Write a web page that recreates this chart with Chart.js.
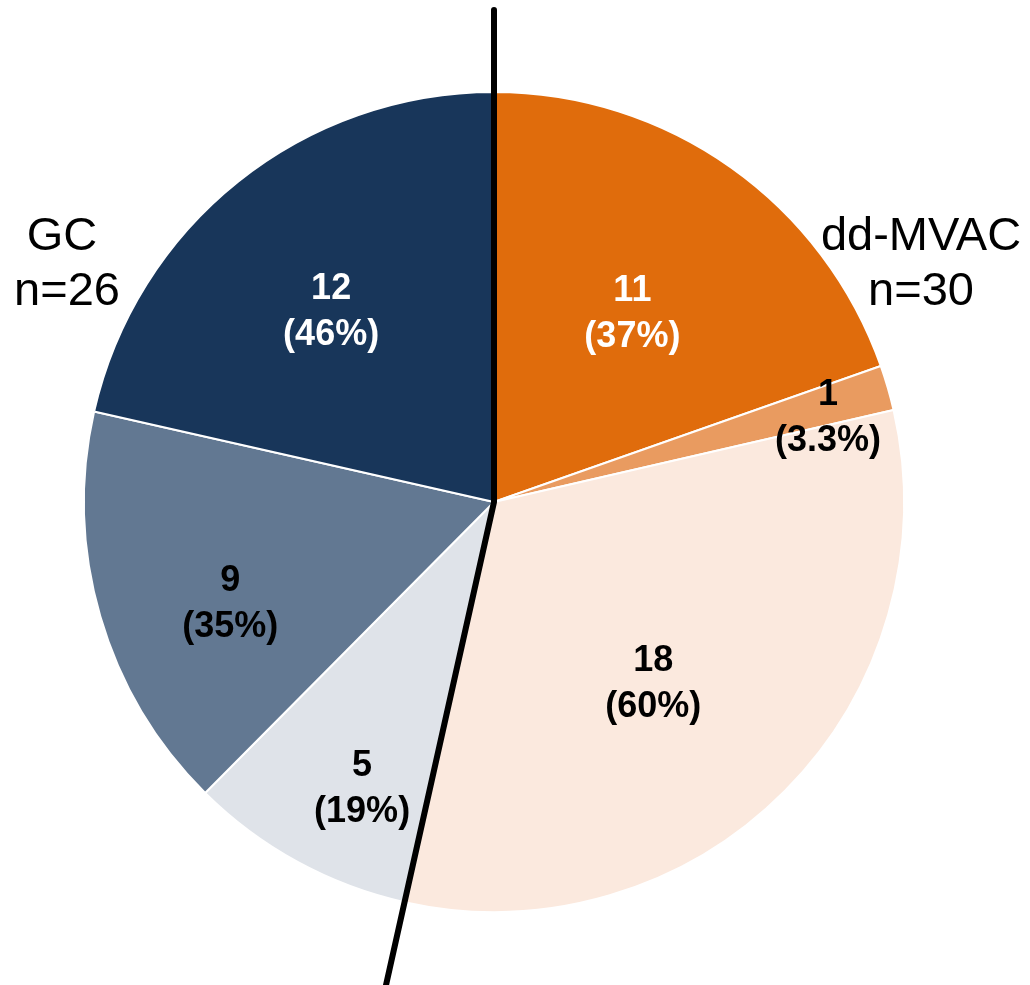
<!DOCTYPE html>
<html>
<head>
<meta charset="utf-8">
<script src="https://cdn.jsdelivr.net/npm/chart.js@4/dist/chart.umd.min.js"></script>
<style>
  body { margin: 0; background: #fff; }
  #wrap { position: relative; width: 1030px; height: 985px; }
</style>
</head>
<body>
<div id="wrap"><canvas id="pie"></canvas></div>
<script>
// right half: dd-MVAC, left half: GC (clockwise from 12 o'clock)
const mvacCounts = [11, 1, 18];
const gcCounts = [5, 9, 12];
const mvacTotal = 30;
const gcTotal = 26;
const groupNames = ['dd-MVAC', 'GC'];

// angle (deg, clockwise from top) where the dd-MVAC half ends
const splitDeg = 192.6;

const colors = ['#e06c0c', '#e99b60', '#fbe9de', '#dfe3e9', '#627892', '#18365a'];
const textColors = ['#fff', '#000', '#000', '#000', '#000', '#fff'];
// label placement: fraction of radius, angle nudge in degrees
const labelRadius = [0.57, 0.84, 0.59, 0.77, 0.69, 0.61];
const labelNudge = [1, 2, 4, -4, -5, -2];

let counts = mvacCounts.concat(gcCounts);
let totals = mvacCounts.map(() => mvacTotal).concat(gcCounts.map(() => gcTotal));
let sizes = mvacCounts.map(v => v / mvacTotal * splitDeg)
    .concat(gcCounts.map(v => v / gcTotal * (360 - splitDeg)));

function pctText(c, t) {
    let p = c / t * 100;
    return '(' + (p < 10 ? p.toFixed(1) : Math.round(p)) + '%)';
}

const overlay = {
    id: 'overlay',
    afterDraw(chart) {
        const c = chart.ctx;
        const arcs = chart.getDatasetMeta(0).data;
        const cx = arcs[0].x, cy = arcs[0].y, r = arcs[0].outerRadius;

        // slice labels
        c.save();
        c.font = 'bold 36px "Liberation Sans", Arial, sans-serif';
        c.textAlign = 'center';
        c.textBaseline = 'middle';
        arcs.forEach((a, i) => {
            let mid = (a.startAngle + a.endAngle) / 2 + labelNudge[i] * Math.PI / 180;
            let x = cx + Math.cos(mid) * r * labelRadius[i];
            let y = cy + Math.sin(mid) * r * labelRadius[i];
            c.fillStyle = textColors[i];
            c.fillText(String(counts[i]), x, y - 23);
            c.fillText(pctText(counts[i], totals[i]), x, y + 23);
        });

        // group names
        c.fillStyle = '#000';
        c.font = '47px "Liberation Sans", Arial, sans-serif';
        c.textBaseline = 'alphabetic';
        c.fillText(groupNames[0], 921, 250);
        c.fillText('n=' + mvacTotal, 921, 305);
        c.fillText(groupNames[1], 62, 250);
        c.fillText('n=' + gcTotal, 67, 305);

        // divider line
        let a = (splitDeg - 90) * Math.PI / 180;
        let len = (chart.height - cy) / Math.sin(a);
        c.strokeStyle = '#000';
        c.lineWidth = 6;
        c.lineCap = 'round';
        c.lineJoin = 'round';
        c.beginPath();
        c.moveTo(cx, 10);
        c.lineTo(cx, cy);
        c.lineTo(cx + Math.cos(a) * len, cy + Math.sin(a) * len);
        c.stroke();
        c.restore();
    }
};

new Chart(document.getElementById('pie'), {
    type: 'pie',
    data: {
        labels: ['11', '1', '18', '5', '9', '12'],
        datasets: [{
            data: sizes,
            backgroundColor: colors,
            borderColor: '#fff',
            borderWidth: 2
        }]
    },
    options: {
        responsive: true,
        maintainAspectRatio: false,
        animation: false,
        layout: { padding: { left: 83, right: 125, top: 91, bottom: 72 } },
        plugins: { legend: { display: false }, tooltip: { enabled: false } }
    },
    plugins: [overlay]
});
</script>
</body>
</html>
